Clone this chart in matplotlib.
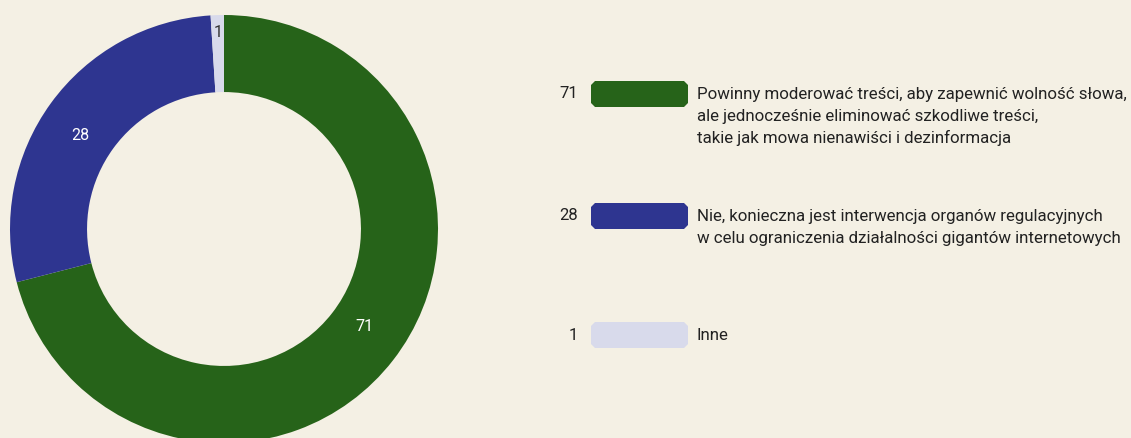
import matplotlib.pyplot as plt
import numpy as np
from matplotlib.patches import Polygon

# Poll results (%)
values = [71, 28, 1]
labels = [['Powinny moderować treści, aby zapewnić wolność słowa,',
           'ale jednocześnie eliminować szkodliwe treści,',
           'takie jak mowa nienawiści i dezinformacja'],
          ['Nie, konieczna jest interwencja organów regulacyjnych',
           'w celu ograniczenia działalności gigantów internetowych'],
          ['Inne']]
colors = ['#266319', '#2E3590', '#D8DAEB']
label_colors = ['white', 'white', '#333333']

bg = '#F4F0E4'
plt.rcParams['font.family'] = ['Roboto', 'DejaVu Sans']

W, H = 1131, 438
fig = plt.figure(figsize=(W / 100, H / 100), dpi=100, facecolor=bg)

# donut: center (224, 229) px, radius 214 px
cx, cy, R = 224, 229, 214
ax = fig.add_axes([(cx - R) / W, (H - cy - R) / H, 2 * R / W, 2 * R / H])
ax.set_facecolor(bg)
wedges, _ = ax.pie(values, colors=colors, startangle=90, counterclock=False,
                   radius=1, wedgeprops=dict(width=0.36, linewidth=0))
for w in wedges:
    w.set_clip_on(False)
ax.set_xlim(-1, 1)
ax.set_ylim(-1, 1)
ax.set_aspect('equal')
ax.axis('off')

# value labels on the ring
total = sum(values)
cum = 0
for v, c in zip(values, label_colors):
    mid = 90 - (cum + v / 2) / total * 360
    cum += v
    if v >= 5:
        r, mid = 0.80, mid + 3
    else:
        r = 0.92
    ax.text(r * np.cos(np.radians(mid)), r * np.sin(np.radians(mid)), str(v),
            color=c, fontsize=11.5, ha='center', va='center')

# legend drawn in pixel coordinates
lax = fig.add_axes([0, 0, 1, 1])
lax.set_xlim(0, W)
lax.set_ylim(H, 0)
lax.axis('off')
lax.patch.set_alpha(0)

rows_y = [94, 216, 335]
x0, x1, hh, cut = 591, 688, 13, 4
for v, lines, col, y in zip(values, labels, colors, rows_y):
    lax.text(578, y, str(v), ha='right', va='center', fontsize=12, color='#222222')
    pts = [(x0 + cut, y - hh), (x1 - cut, y - hh), (x1, y - hh + cut), (x1, y + hh - cut),
           (x1 - cut, y + hh), (x0 + cut, y + hh), (x0, y + hh - cut), (x0, y - hh + cut)]
    lax.add_patch(Polygon(pts, closed=True, facecolor=col, edgecolor='none'))
    for i, line in enumerate(lines):
        lax.text(697, y + i * 22, line, ha='left', va='center', fontsize=12.2,
                 color='#222222')

plt.savefig('out.png', dpi=100, facecolor=bg)
